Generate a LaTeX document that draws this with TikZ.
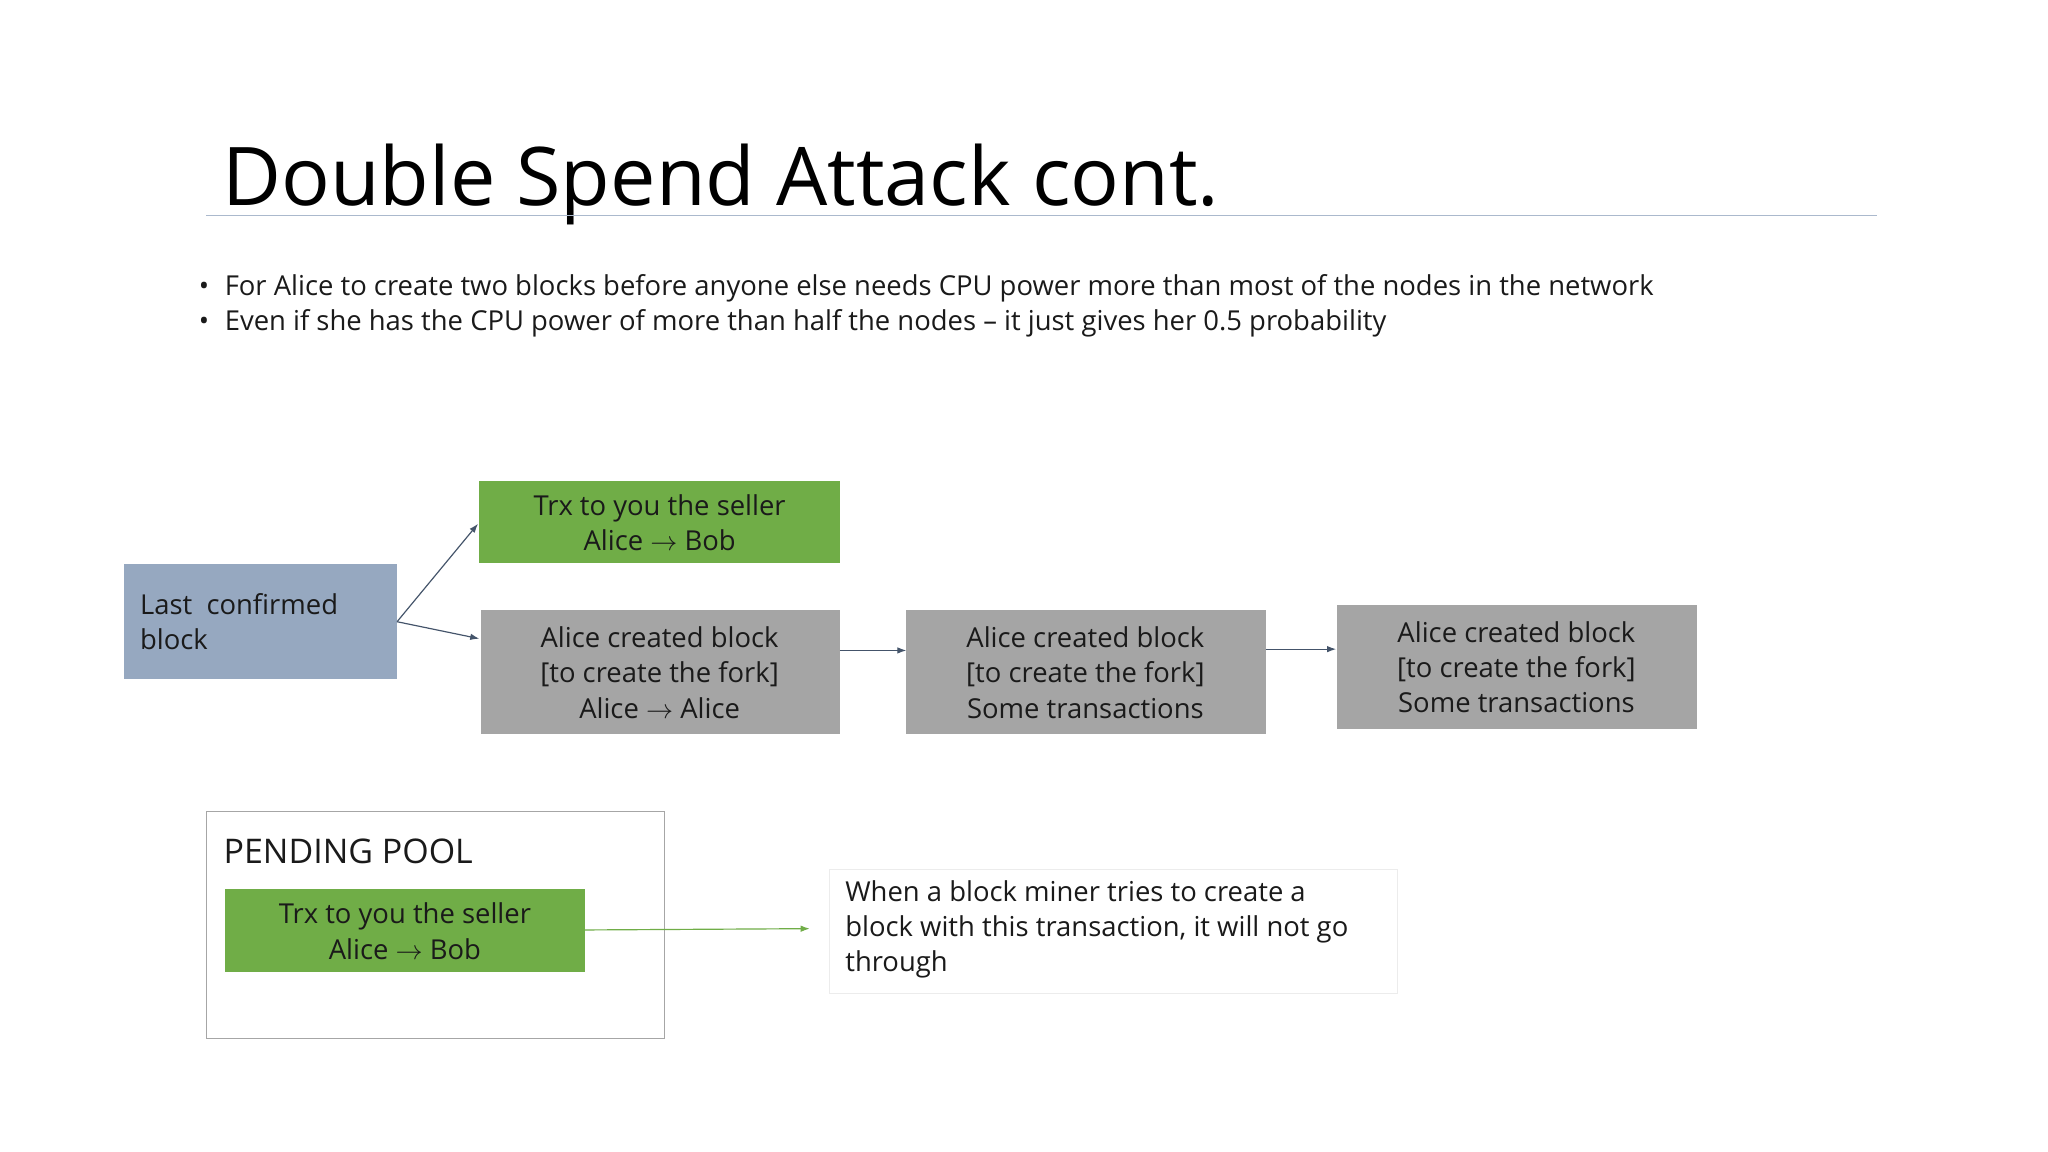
\documentclass[tikz,border=0pt]{standalone}
\usepackage{fontspec}
\setmainfont{Open Sans}
\usetikzlibrary{arrows.meta}
\definecolor{grn}{HTML}{70AD47}
\definecolor{gry}{HTML}{A5A5A5}
\definecolor{blu}{HTML}{96A8C0}
\definecolor{arr}{HTML}{44546A}
\definecolor{txt}{HTML}{1A1A1A}
\begin{document}
\begin{tikzpicture}[x=1pt,y=-1pt,
  box/.style={draw=none,inner sep=0pt,font=\fontsize{21}{27}\selectfont,text=txt,align=center},
  con/.style={draw=arr,line width=0.9pt,-{Latex[length=7pt,width=5pt]}}]
\useasboundingbox[fill=white] (0,0) rectangle (1568,882);
\node[anchor=base west,font=\fontsize{62}{70}\selectfont,text=black,inner sep=0pt] (title) at (170,157) {Double Spend Attack cont.};
\draw[color=blu!80,line width=0.8pt] (158,165) -- (1437,165);
\node[anchor=base west,inner sep=0pt,font=\fontsize{21}{26}\selectfont,text=txt] (b1) at (152,226) {•\hspace{12pt}For Alice to create two blocks before anyone else needs CPU power more than most of the nodes in the network};
\node[anchor=base west,inner sep=0pt,font=\fontsize{21}{26}\selectfont,text=txt] (b2) at (152,253) {•\hspace{12pt}Even if she has the CPU power of more than half the nodes -- it just gives her 0.5 probability};
\path[fill=blu] (95,432) rectangle (304,520);
\node[box,align=left,anchor=west] (last) at (107,476) {Last\ \ confirmed\\block};
\coordinate (lastE) at (304,476);
\path[fill=grn] (367,368) rectangle (643,431);
\node[box] (g1) at (505,400) {Trx to you the seller\\Alice $\rightarrow$ Bob};
\path[fill=gry] (368,467) rectangle (643,562);
\node[box] (a1) at (505,515) {Alice created block\\{}[to create the fork]\\Alice $\rightarrow$ Alice};
\path[fill=gry] (694,467) rectangle (969,562);
\node[box] (a2) at (831,515) {Alice created block\\{}[to create the fork]\\Some transactions};
\path[fill=gry] (1024,463) rectangle (1299,558);
\node[box] (a3) at (1161,511) {Alice created block\\{}[to create the fork]\\Some transactions};
\coordinate (g1W) at (366,401);
\coordinate (a1W) at (367,489);
\draw[con] (lastE) -- (g1W);
\draw[con] (lastE) -- (a1W);
\draw[con] (643,498) -- (694,498);
\draw[con] (969,497) -- (1023,497);
\draw[gray!70,line width=0.8pt] (158,621) rectangle (509,795);
\node[anchor=west,inner sep=0pt,font=\fontsize{26}{30}\selectfont,text=txt] (pp) at (171,652) {PENDING POOL};
\path[fill=grn] (172,681) rectangle (448,744);
\node[box] (g2) at (310,713) {Trx to you the seller\\Alice $\rightarrow$ Bob};
\draw[gray!15,line width=0.8pt] (635,666) rectangle (1070,761);
\node[box,align=left,anchor=north west] (note) at (647,674) {When a block miner tries to create a\\block with this transaction, it will not go\\through};
\draw[draw=grn,line width=0.9pt,-{Latex[length=7pt,width=5pt]}] (448,712) -- (620,711);
\end{tikzpicture}
\end{document}
